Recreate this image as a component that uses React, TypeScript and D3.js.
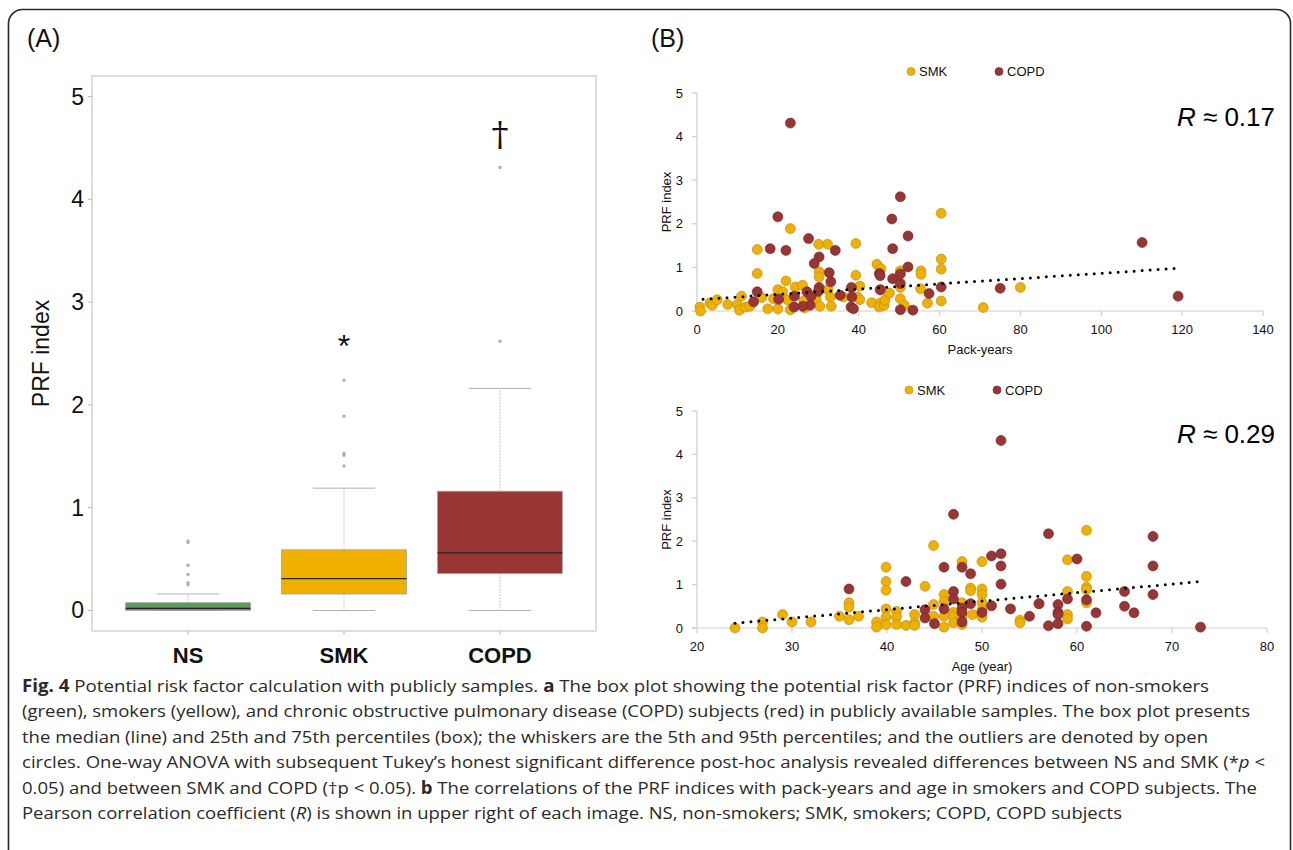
import React from 'react';
import * as d3 from 'd3';

// ---- panel A: box plot summary ----
const groups = ['NS', 'SMK', 'COPD'];
const boxFill = ['#55a055', '#efb000', '#993535'];
const q1 = [0.0, 0.16, 0.36];
const median = [0.02, 0.31, 0.56];
const q3 = [0.075, 0.59, 1.16];
const whiskerLow = [0, 0, 0];
const whiskerHigh = [0.16, 1.19, 2.16];
const outliers = [
  [0.675, 0.66, 0.44, 0.35, 0.27, 0.25],
  [1.405, 1.51, 1.53, 1.89, 2.24],
  [2.62, 4.31],
];
const signif = ['', '*', '†'];
const signifY = [0, 2.6, 4.6];
const boxTicks = [0, 1, 2, 3, 4, 5];

// ---- panel B: PRF index vs pack-years ----
const smkPack: [number, number][] = [
  [0.7, 0.09], [0.9, 0.0], [3.2, 0.18], [3.8, 0.13], [5, 0.26], [7.6, 0.15], [10, 0.15], [11, 0.34],
  [10.5, 0.02], [12.1, 0.09], [13.1, 0.11], [14.9, 1.41], [14.9, 0.86], [16, 0.31], [17.5, 0.05],
  [18.9, 0.28], [20, 0.49], [20, 0.05], [21.2, 0.44], [22, 0.69], [23.1, 1.89], [22.5, 0.25],
  [23.1, 0.03], [24.3, 0.55], [26.1, 0.59], [26.4, 0.23], [26.6, 0.07], [30.1, 1.53], [32.3, 1.53],
  [30.2, 0.9], [30.2, 0.78], [29.5, 0.28], [30.4, 0.11], [32.4, 0.49], [33, 0.32], [33.2, 0.11],
  [36.2, 0.32], [39.3, 1.55], [39.3, 0.82], [40.3, 0.57], [39.7, 0.32], [40.3, 0.26], [43.2, 0.19],
  [44.5, 1.07], [45.5, 0.97], [45.5, 0.48], [45.3, 0.18], [45.1, 0.09], [46.3, 0.13], [46.5, 0.25],
  [47.6, 0.41], [50.3, 0.92], [50.3, 0.54], [50.3, 0.28], [51.3, 0.13], [55.4, 0.92], [55.4, 0.84],
  [55.3, 0.51], [57, 0.18], [60.4, 2.24], [60.4, 1.19], [60.4, 0.96], [60.4, 0.23], [70.8, 0.08],
  [80, 0.54],
];
const copdPack: [number, number][] = [
  [23.1, 4.31], [20, 2.16], [18.1, 1.43], [22, 1.39], [27.6, 1.66], [30.2, 1.24], [29, 1.09],
  [34.2, 1.39], [32.7, 0.88], [33.1, 0.67], [30.2, 0.54], [30, 0.45], [27.2, 0.44], [28.2, 0.34],
  [28, 0.13], [26.2, 0.11], [24.1, 0.34], [24, 0.09], [20.2, 0.27], [14.9, 0.44], [14, 0.21],
  [35.4, 0.36], [38.2, 0.54], [38.3, 0.32], [38.1, 0.09], [38.7, 0.05], [48.2, 2.11], [50.3, 2.62],
  [48.4, 1.43], [52.2, 1.72], [52.2, 1.01], [45.1, 0.86], [45.3, 0.81], [45.3, 0.49], [48.4, 0.74],
  [50.3, 0.85], [50.3, 0.63], [50.3, 0.03], [53.4, 0.02], [57.4, 0.4], [60.4, 0.55], [75, 0.52],
  [110.1, 1.57], [119, 0.34],
];
const packTrend: [number, number][] = [[1.5, 0.27], [119, 0.98]];
const packTicks = [0, 20, 40, 60, 80, 100, 120, 140];

// ---- panel B: PRF index vs age ----
const smkAge: [number, number][] = [
  [24, 0], [26.9, 0.14], [26.9, 0], [29, 0.31], [30, 0.14], [32, 0.14], [35, 0.27], [36, 0.58],
  [36, 0.48], [36, 0.19], [37, 0.27], [38.9, 0.14], [38.9, 0.02], [39.9, 1.4], [39.9, 1.07],
  [39.9, 0.87], [39.9, 0.44], [39.9, 0.25], [39.9, 0.08], [41, 0.38], [41, 0.25], [41, 0.08],
  [42, 0.06], [42.9, 0.31], [42.9, 0.12], [42.9, 0.06], [44, 0.96], [44.9, 1.9], [44.9, 0.54],
  [44.9, 0.27], [46, 0.77], [46, 0.61], [46, 0.27], [46, 0.02], [47, 0.36], [47, 0.27], [47, 0.12],
  [47.9, 1.53], [47.9, 0.58], [47.9, 0.27], [47.9, 0.08], [48.8, 0.92], [48.8, 0.86], [49, 0.31],
  [50, 1.53], [50, 0.9], [50, 0.77], [50, 0.58], [50, 0.41], [50, 0.25], [54, 0.18], [54, 0.12],
  [56, 0.56], [59, 1.57], [59, 0.84], [59, 0.31], [59, 0.21], [61, 2.25], [61, 1.19], [61, 0.94],
  [61, 0.88], [61, 0.58],
];
const copdAge: [number, number][] = [
  [36, 0.9], [42, 1.07], [44, 0.42], [44, 0.23], [45, 0.1], [46, 1.4], [46, 0.44], [47, 2.62],
  [47, 0.84], [47, 0.67], [47.9, 1.4], [47.9, 0.46], [47.9, 0.36], [47.9, 0.14], [48.8, 1.25],
  [48.8, 0.56], [52, 4.32], [51, 1.66], [52, 1.71], [52, 1.43], [52, 1.01], [51, 0.51], [50, 0.36],
  [53, 0.44], [55, 0.27], [56, 0.56], [57, 2.17], [57, 0.05], [58, 0.54], [58, 0.36], [58, 0.31],
  [58, 0.1], [59, 0.67], [60, 1.59], [61, 0.65], [61, 0.04], [62, 0.35], [65, 0.84], [65, 0.5],
  [66, 0.35], [68, 2.11], [68, 1.43], [68, 0.77], [73, 0.02],
];
const ageTrend: [number, number][] = [[24, 0.11], [73, 1.07]];
const ageTicks = [20, 30, 40, 50, 60, 70, 80];
const prfTicks = [0, 1, 2, 3, 4, 5];

// caption: each line is a list of [text, style] pieces (b = bold, i = italic)
const caption: [string, string][][] = [
  [['Fig. 4', 'b'], [' Potential risk factor calculation with publicly samples. ', ''], ['a', 'b'], [' The box plot showing the potential risk factor (PRF) indices of non-smokers', '']],
  [['(green), smokers (yellow), and chronic obstructive pulmonary disease (COPD) subjects (red) in publicly available samples. The box plot presents', '']],
  [['the median (line) and 25th and 75th percentiles (box); the whiskers are the 5th and 95th percentiles; and the outliers are denoted by open', '']],
  [['circles. One-way ANOVA with subsequent Tukey’s honest significant difference post-hoc analysis revealed differences between NS and SMK (*', ''], ['p', 'i'], [' <', '']],
  [['0.05) and between SMK and COPD (†p < 0.05). ', ''], ['b', 'b'], [' The correlations of the PRF indices with pack-years and age in smokers and COPD subjects. The', '']],
  [['Pearson correlation coefficient (', ''], ['R', 'i'], [') is shown in upper right of each image. NS, non-smokers; SMK, smokers; COPD, COPD subjects', '']],
];
const captionWidths = [1187, 1228, 1186, 1243, 1235, 1100];

const FONT = '"Liberation Sans", Arial, sans-serif';
const SMK_FILL = '#efb000';
const COPD_FILL = '#993535';

type ScatterProps = {
  x: d3.ScaleLinear<number, number>;
  y: d3.ScaleLinear<number, number>;
  xTicks: number[];
  smk: [number, number][];
  copd: [number, number][];
  trend: [number, number][];
  xLabel: string;
  rText: string;
  rBaseline: number;
  legendY: number;
  legendX: [number, number];
};

const Scatter = ({ x, y, xTicks, smk, copd, trend, xLabel, rText, rBaseline, legendY, legendX }: ScatterProps) => {
  const [x0, x1] = x.range();
  const [yb, yt] = y.range();
  const line = d3.line<[number, number]>().x(d => x(d[0])).y(d => y(d[1]));
  return (
    <g style={{ fontFamily: FONT }}>
      {/* legend */}
      <circle cx={legendX[0]} cy={legendY} r={4} fill={SMK_FILL} stroke="#b58a10" strokeWidth={0.6} />
      <text x={legendX[0] + 8} y={legendY + 4.5} fontSize={13} fill="#111">SMK</text>
      <circle cx={legendX[1]} cy={legendY} r={4} fill={COPD_FILL} stroke="#6b2222" strokeWidth={0.6} />
      <text x={legendX[1] + 8} y={legendY + 4.5} fontSize={13} fill="#111">COPD</text>

      {/* axes */}
      <line x1={x0} x2={x0} y1={yt} y2={yb} stroke="#cfcfcf" strokeWidth={1.2} />
      <line x1={x0 - 5} x2={x1} y1={yb} y2={yb} stroke="#cfcfcf" strokeWidth={1.2} />
      {prfTicks.map(t => (
        <g key={`y${t}`}>
          <line x1={x0 - 5} x2={x0} y1={y(t)} y2={y(t)} stroke="#cfcfcf" strokeWidth={1.2} />
          <text x={x0 - 14} y={y(t) + 4.5} fontSize={13} textAnchor="end" fill="#111">{t}</text>
        </g>
      ))}
      {xTicks.map(t => (
        <g key={`x${t}`}>
          <line x1={x(t)} x2={x(t)} y1={yb} y2={yb + 5} stroke="#cfcfcf" strokeWidth={1.2} />
          <text x={x(t)} y={yb + 23} fontSize={13} textAnchor="middle" fill="#111">{t}</text>
        </g>
      ))}
      <text x={(x0 + x1) / 2} y={yb + 43} fontSize={13} textAnchor="middle" fill="#111">{xLabel}</text>
      <text transform={`translate(${x0 - 26}, ${(yt + yb) / 2}) rotate(-90)`} fontSize={13} textAnchor="middle" fill="#111">PRF index</text>

      {/* points */}
      {smk.map((d, i) => (
        <circle key={`s${i}`} cx={x(d[0])} cy={y(d[1])} r={5} fill={SMK_FILL} stroke="#b08a2a" strokeWidth={0.6} />
      ))}
      {copd.map((d, i) => (
        <circle key={`c${i}`} cx={x(d[0])} cy={y(d[1])} r={5} fill={COPD_FILL} stroke="#6b2424" strokeWidth={0.6} />
      ))}

      {/* trend line */}
      <path d={line(trend) ?? ''} fill="none" stroke="#000" strokeWidth={3} strokeDasharray="0 8" strokeLinecap="round" />

      <text x={1275} y={rBaseline} fontSize={26} textAnchor="end" fill="#000">
        <tspan fontStyle="italic">R</tspan> ≈ {rText}
      </text>
    </g>
  );
};

export default function App() {
  // panel A scales
  const yA = d3.scaleLinear().domain([-0.2, 5.2]).range([631, 76]);
  const xA = d3.scalePoint<string>().domain(groups).range([92, 596]).padding(0.616);
  const boxW = xA.step() * 0.8;

  // panel B scales
  const xPack = d3.scaleLinear().domain([0, 140]).range([697, 1263]);
  const yPack = d3.scaleLinear().domain([0, 5]).range([311, 93]);
  const xAge = d3.scaleLinear().domain([20, 80]).range([697, 1267]);
  const yAge = d3.scaleLinear().domain([0, 5]).range([628, 411]);

  return (
    <div style={{ position: 'absolute', left: 0, top: 0, width: 1293, height: 850, background: '#fff' }}>
      <svg width={1293} height={850} viewBox="0 0 1293 850">
        <rect x={0} y={0} width={1293} height={850} fill="#fff" />
        <rect x={8.5} y={9.5} width={1282} height={880} rx={14} fill="none" stroke="#2a2a2a" strokeWidth={1.6} />

        <text x={27} y={47} fontSize={25} fontFamily={FONT} fill="#111">(A)</text>
        <text x={651} y={47} fontSize={25} fontFamily={FONT} fill="#111">(B)</text>

        {/* ---- panel A ---- */}
        <g style={{ fontFamily: FONT }}>
          <rect x={92} y={76} width={504} height={555} fill="none" stroke="#c8c8c8" strokeWidth={1.2} />
          {boxTicks.map(t => (
            <g key={t}>
              <line x1={88} x2={92} y1={yA(t)} y2={yA(t)} stroke="#bbb" />
              <text x={84} y={yA(t) + 8} fontSize={23} textAnchor="end" fill="#111">{t}</text>
            </g>
          ))}
          <text transform={`translate(49, ${yA(2.5)}) rotate(-90)`} fontSize={23} textAnchor="middle" fill="#111">PRF index</text>
          {groups.map((g, i) => {
            const cx = xA(g) ?? 0;
            return (
              <g key={g}>
                <line x1={cx} x2={cx} y1={631} y2={635} stroke="#bbb" />
                <text x={cx} y={663} fontSize={22} fontWeight={700} textAnchor="middle" fill="#111">{g}</text>
                {/* whiskers */}
                <line x1={cx} x2={cx} y1={yA(q3[i])} y2={yA(whiskerHigh[i])} stroke="#aaa" strokeWidth={0.8} strokeDasharray="1.5 1.5" />
                <line x1={cx} x2={cx} y1={yA(q1[i])} y2={yA(whiskerLow[i])} stroke="#aaa" strokeWidth={0.8} strokeDasharray="1.5 1.5" />
                <line x1={cx - boxW / 4} x2={cx + boxW / 4} y1={yA(whiskerHigh[i])} y2={yA(whiskerHigh[i])} stroke="#b0b0b0" strokeWidth={1} />
                <line x1={cx - boxW / 4} x2={cx + boxW / 4} y1={yA(whiskerLow[i])} y2={yA(whiskerLow[i])} stroke="#b0b0b0" strokeWidth={1} />
                {/* box */}
                <rect x={cx - boxW / 2} y={yA(q3[i])} width={boxW} height={yA(q1[i]) - yA(q3[i])}
                  fill={boxFill[i]} stroke="#a0a0a0" strokeWidth={0.8} />
                <line x1={cx - boxW / 2} x2={cx + boxW / 2} y1={yA(median[i])} y2={yA(median[i])} stroke="#222" strokeWidth={1.4} />
                {/* outliers */}
                {outliers[i].map((o, j) => (
                  <circle key={j} cx={cx} cy={yA(o)} r={1.7} fill="#b0b0b0" />
                ))}
                {signif[i] === '*' && (
                  <text x={cx} y={yA(signifY[i]) + 14} fontSize={32} textAnchor="middle" fill="#111">*</text>
                )}
                {signif[i] === '†' && (
                  <text x={cx} y={yA(signifY[i]) + 8} fontSize={34} textAnchor="middle" fontFamily="DejaVu Serif" fill="#111">†</text>
                )}
              </g>
            );
          })}
        </g>

        {/* ---- panel B ---- */}
        <Scatter x={xPack} y={yPack} xTicks={packTicks} smk={smkPack} copd={copdPack} trend={packTrend}
          xLabel="Pack-years" rText="0.17" rBaseline={126} legendY={71.5} legendX={[911, 999]} />
        <Scatter x={xAge} y={yAge} xTicks={ageTicks} smk={smkAge} copd={copdAge} trend={ageTrend}
          xLabel="Age (year)" rText="0.29" rBaseline={443} legendY={390} legendX={[909, 997]} />

        {/* ---- caption ---- */}
        <g style={{ fontFamily: '"Open Sans", "Noto Sans", sans-serif' }} fontSize={17} fill="#2a2a2a">
          {caption.map((segs, li) => (
            <text key={li} x={22} y={692 + li * 25.4} textLength={captionWidths[li]} lengthAdjust="spacingAndGlyphs">
              {segs.map(([t, s], si) => (
                <tspan key={si} fontWeight={s === 'b' ? 700 : 400} fontStyle={s === 'i' ? 'italic' : 'normal'}>{t}</tspan>
              ))}
            </text>
          ))}
        </g>
      </svg>
    </div>
  );
}
